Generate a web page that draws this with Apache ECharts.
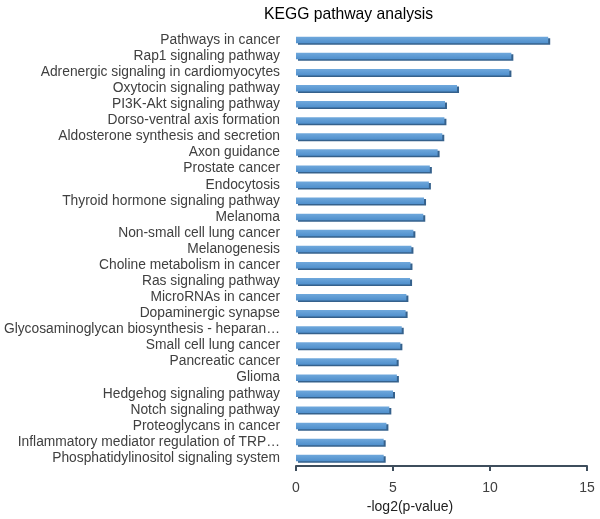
<!DOCTYPE html>
<html>
<head>
<meta charset="utf-8">
<script src="https://cdn.jsdelivr.net/npm/echarts@6/dist/echarts.min.js"></script>
<style>
  html, body { margin: 0; padding: 0; background: #fff; }
  #main { width: 600px; height: 519px; }
</style>
</head>
<body>
<div id="main"></div>
<script>
// pathway names, top to bottom
var pathways = [
  "Pathways in cancer",
  "Rap1 signaling pathway",
  "Adrenergic signaling in cardiomyocytes",
  "Oxytocin signaling pathway",
  "PI3K-Akt signaling pathway",
  "Dorso-ventral axis formation",
  "Aldosterone synthesis and secretion",
  "Axon guidance",
  "Prostate cancer",
  "Endocytosis",
  "Thyroid hormone signaling pathway",
  "Melanoma",
  "Non-small cell lung cancer",
  "Melanogenesis",
  "Choline metabolism in cancer",
  "Ras signaling pathway",
  "MicroRNAs in cancer",
  "Dopaminergic synapse",
  "Glycosaminoglycan biosynthesis - heparan…",
  "Small cell lung cancer",
  "Pancreatic cancer",
  "Glioma",
  "Hedgehog signaling pathway",
  "Notch signaling pathway",
  "Proteoglycans in cancer",
  "Inflammatory mediator regulation of TRP…",
  "Phosphatidylinositol signaling system"
];
// -log2(p-value)
var scores = [
  13.0, 11.1, 11.0, 8.3, 7.68, 7.65, 7.54, 7.3, 6.9, 6.85,
  6.6, 6.56, 6.05, 5.95, 5.9, 5.88, 5.69, 5.65, 5.45, 5.38,
  5.19, 5.2, 5.0, 4.81, 4.66, 4.52, 4.52
];
var xTicks = [0, 5, 10, 15];

var myChart = echarts.init(document.getElementById("main"));
myChart.setOption({
  animation: false,
  title: {
    text: "KEGG pathway analysis",
    left: 259,
    top: 2,
    textStyle: {
      fontFamily: "Liberation Sans",
      fontSize: 15.7,
      fontWeight: "normal",
      color: "#000",
    },
  },
  grid: {
    left: 296,
    right: 13,
    top: 32,
    bottom: 46,
    containLabel: false,
  },
  xAxis: {
    type: "value",
    min: xTicks[0],
    max: xTicks[xTicks.length - 1],
    interval: 5,
    name: "-log2(p-value)",
    nameLocation: "middle",
    nameGap: 27,
    nameTextStyle: {
      fontFamily: "Liberation Sans",
      fontSize: 14,
      color: "#222",
      padding: [0, 63, 0, 0],
    },
    axisLine: {
      show: true,
      lineStyle: { color: "#3e4d5c", width: 2 },
    },
    axisTick: {
      show: true,
      length: 5,
      lineStyle: { color: "#3e4d5c", width: 2 },
    },
    axisLabel: {
      margin: 15,
      fontFamily: "Liberation Sans",
      fontSize: 14,
      color: "#404040",
    },
    splitLine: { show: false },
  },
  yAxis: {
    type: "category",
    inverse: true,
    data: pathways,
    axisLine: { show: false },
    axisTick: { show: false },
    axisLabel: {
      interval: 0,
      margin: 16,
      fontFamily: "Liberation Sans",
      fontSize: 13.8,
      color: "#404040",
    },
  },
  series: [
    {
      type: "bar",
      data: scores,
      barWidth: 6.5,
      itemStyle: {
        color: new echarts.graphic.LinearGradient(0, 0, 0, 1, [
          { offset: 0, color: "#6fa8dc" },
          { offset: 1, color: "#4f8fcc" },
        ]),
        shadowColor: "#35618c",
        shadowOffsetX: 2,
        shadowOffsetY: 1.5,
        shadowBlur: 0,
      },
    },
  ],
});
</script>
</body>
</html>
